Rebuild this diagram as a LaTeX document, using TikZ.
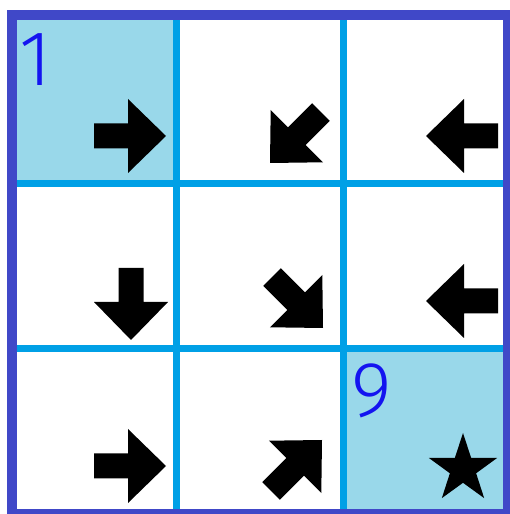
\documentclass[tikz,border=0pt]{standalone}
\usepackage{fontspec}
\newfontfamily\digitfont{Fira Sans Light}
\definecolor{frameblue}{RGB}{64,72,200}
\definecolor{gridcyan}{RGB}{0,160,230}
\definecolor{markfill}{RGB}{153,216,234}
\definecolor{digitblue}{RGB}{20,20,240}
\tikzset{
  arrowshape/.pic={\fill[black] (0,0) -- (-38,37) -- (-38,12.5) -- (-72,12.5) -- (-72,-12.5) -- (-38,-12.5) -- (-38,-37) -- cycle;},
  digitlabel/.style={anchor=base west, inner sep=0pt, text=digitblue, font=\digitfont\fontsize{78}{78}\selectfont}
}
\begin{document}
\begin{tikzpicture}[x=1pt,y=1pt]
\useasboundingbox (0,0) rectangle (509,514);
% highlighted cells
\fill[markfill] (12,330.5) rectangle (176.5,499);
\fill[markfill] (343.5,0) rectangle (508,165.5);
% inner grid lines
\draw[gridcyan, line width=7pt] (176.5,0) -- (176.5,499);
\draw[gridcyan, line width=7pt] (343.5,0) -- (343.5,499);
\draw[gridcyan, line width=7pt] (12,330.5) -- (508,330.5);
\draw[gridcyan, line width=7pt] (12,165.5) -- (508,165.5);
% outer frame
\draw[frameblue, line width=10pt] (12,0) rectangle (508,499);
% numbers
\node[digitlabel] (one) at (19,428) {1};
\node[digitlabel] (nine) at (351,97) {9};
% arrows
\pic[rotate=0] at (166,378) {arrowshape};
\pic[rotate=225] at (270,351) {arrowshape};
\pic[rotate=180] at (426,378) {arrowshape};
\pic[rotate=270] at (131,174) {arrowshape};
\pic[rotate=-45] at (323,186) {arrowshape};
\pic[rotate=180] at (426,213) {arrowshape};
\pic[rotate=0] at (166,48) {arrowshape};
\pic[rotate=45] at (322,74) {arrowshape};
% star
\coordinate (star) at (463,45);
\fill[black] (star) +(90:36) -- +(126:13.8) -- +(162:36) -- +(198:13.8) -- +(234:36) -- +(270:13.8) -- +(306:36) -- +(342:13.8) -- +(18:36) -- +(54:13.8) -- cycle;
\end{tikzpicture}
\end{document}
